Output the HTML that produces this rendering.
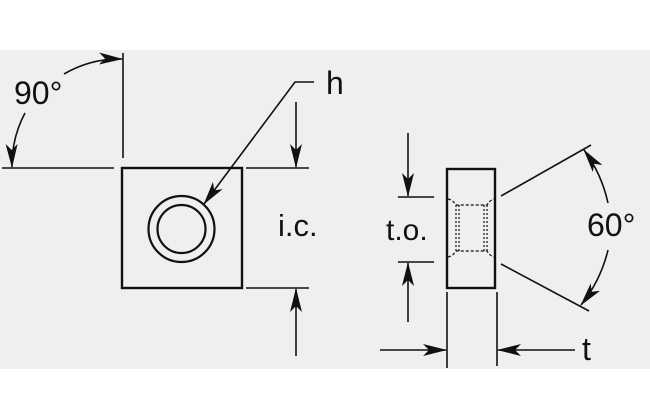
<!DOCTYPE html>
<html><head><meta charset="utf-8"><style>
html,body{margin:0;padding:0;background:#fff;}
svg{display:block;}
text{font-family:"Liberation Sans",Arial,sans-serif;fill:#111;}
</style></head><body>
<svg width="650" height="419" viewBox="0 0 650 419" xmlns="http://www.w3.org/2000/svg">
<defs>
<marker id="a" markerWidth="24" markerHeight="12" refX="23" refY="6" orient="auto" markerUnits="userSpaceOnUse">
<path d="M0,0 L24,6 L0,12 L6,6 Z" fill="#111"/>
</marker>
</defs>
<rect x="0" y="50" width="650" height="319" fill="#efefef"/>
<g stroke="#111" fill="none">
<rect x="122" y="168" width="120" height="120" stroke-width="2.4"/>
<circle cx="181.5" cy="229" r="33" stroke-width="2.2"/>
<circle cx="181.5" cy="229" r="24" stroke-width="2.2"/>
<line x1="2" y1="168" x2="114" y2="168" stroke-width="1.6"/>
<line x1="123" y1="53" x2="123" y2="158" stroke-width="1.6"/>
<path d="M64,74 A111,111 0 0 1 122,59" stroke-width="1.6" marker-end="url(#a)"/>
<path d="M25,113 A111,111 0 0 0 12,167" stroke-width="1.6" marker-end="url(#a)"/>
<polyline points="314,82 295,82 204,204" stroke-width="1.6" marker-end="url(#a)"/>
<line x1="246" y1="168" x2="309" y2="168" stroke-width="1.6"/>
<line x1="246" y1="288" x2="309" y2="288" stroke-width="1.6"/>
<line x1="296" y1="102" x2="296" y2="167" stroke-width="1.6" marker-end="url(#a)"/>
<line x1="296" y1="356" x2="296" y2="289" stroke-width="1.6" marker-end="url(#a)"/>
<rect x="447" y="169" width="48" height="119" stroke-width="2.4"/>
<path d="M448,199 Q453,200 456,205 L487,205 Q490,200 494,199" stroke-width="1.2" stroke-dasharray="3,2"/>
<path d="M448,257 Q453,256 456,251 L487,251 Q490,256 494,257" stroke-width="1.2" stroke-dasharray="3,2"/>
<g stroke-width="1.2" stroke-dasharray="2,2">
<line x1="456" y1="205" x2="456" y2="251"/><line x1="459" y1="205" x2="459" y2="251"/>
<line x1="484" y1="205" x2="484" y2="251"/><line x1="487" y1="205" x2="487" y2="251"/>
</g>
<line x1="398" y1="197" x2="434" y2="197" stroke-width="1.6"/>
<line x1="398" y1="262" x2="434" y2="262" stroke-width="1.6"/>
<line x1="408" y1="133" x2="408" y2="196" stroke-width="1.6" marker-end="url(#a)"/>
<line x1="408" y1="322" x2="408" y2="263" stroke-width="1.6" marker-end="url(#a)"/>
<line x1="501" y1="196" x2="591" y2="145" stroke-width="1.6"/>
<line x1="501" y1="264" x2="589" y2="311" stroke-width="1.6"/>
<path d="M608,203 A140,140 0 0 0 584,150" stroke-width="1.6" marker-end="url(#a)"/>
<path d="M608,250 A140,140 0 0 1 581,305" stroke-width="1.6" marker-end="url(#a)"/>
<line x1="447" y1="292" x2="447" y2="368" stroke-width="1.6"/>
<line x1="497" y1="292" x2="497" y2="366" stroke-width="1.6"/>
<line x1="380" y1="350" x2="446" y2="350" stroke-width="1.6" marker-end="url(#a)"/>
<line x1="575" y1="350" x2="498" y2="350" stroke-width="1.6" marker-end="url(#a)"/>
</g>
<text x="14" y="104" font-size="32">90°</text>
<text x="326" y="94" font-size="32">h</text>
<text x="278" y="236" font-size="31">i.c.</text>
<text x="386" y="240" font-size="30">t.o.</text>
<text x="587" y="236" font-size="32">60°</text>
<text x="582" y="360" font-size="32">t</text>
</svg>
</body></html>
